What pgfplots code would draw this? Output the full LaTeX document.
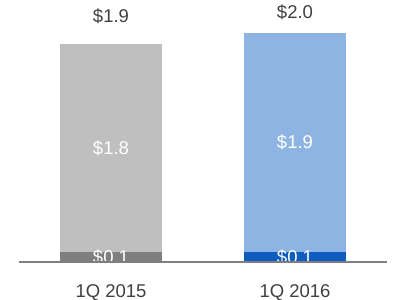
\documentclass[border=0pt]{standalone}
\usepackage{pgfplots}
\pgfplotsset{compat=1.18}
\usepackage{fontspec}
\setmainfont{Liberation Sans}
\definecolor{lgray}{HTML}{BFBFBF}
\definecolor{dgray}{HTML}{7F7F7F}
\definecolor{lblue}{HTML}{8DB4E2}
\definecolor{dblue}{HTML}{0E5CBF}
\definecolor{txt}{HTML}{404040}
\newcommand{\lf}{\fontsize{18.5}{20}\selectfont}
\begin{document}
\begin{tikzpicture}
\path[use as bounding box] (0,0) rectangle (400pt,300pt);
\begin{axis}[
  at={(19pt,38pt)}, anchor=south west,
  scale only axis, width=368pt, height=252.1pt,
  xmin=-0.5, xmax=1.5, ymin=0, ymax=2.2,
  ybar stacked, bar width=102pt,
  axis y line=none,
  axis x line*=bottom,
  x axis line style={draw=dgray, line width=1.5pt, -},
  xtick={0,1}, xticklabels={1Q 2015,1Q 2016},
  major tick length=0pt,
  xticklabel style={font=\lf, text=txt, yshift=-19pt},
  clip=false,
]
\addplot[fill=dgray, draw=none] coordinates {(0,0.09) (1,0)};
\addplot[fill=dblue, draw=none] coordinates {(0,0) (1,0.09)};
\addplot[fill=lgray, draw=none] coordinates {(0,1.81) (1,0)};
\addplot[fill=lblue, draw=none] coordinates {(0,0) (1,1.91)};
\coordinate (a1) at (axis cs:0,0.995);
\coordinate (a2) at (axis cs:1,1.047);
\coordinate (b1) at (axis cs:0,0.044);
\coordinate (b2) at (axis cs:1,0.044);
\coordinate (t1) at (axis cs:0,2.147);
\coordinate (t2) at (axis cs:1,2.18);
\coordinate (L) at (rel axis cs:0,0);
\coordinate (R) at (rel axis cs:1,0);
\end{axis}
\node[text=white, font=\lf] at (a1) {\$1.8};
\node[text=white, font=\lf] at (a2) {\$1.9};
\node[text=white, font=\lf] at (b1) {\$0.1};
\node[text=white, font=\lf] at (b2) {\$0.1};
\node[text=txt, font=\lf] at (t1) {\$1.9};
\node[text=txt, font=\lf] at (t2) {\$2.0};
\draw[dgray, line width=1.5pt] (L) -- (R);
\end{tikzpicture}
\end{document}
